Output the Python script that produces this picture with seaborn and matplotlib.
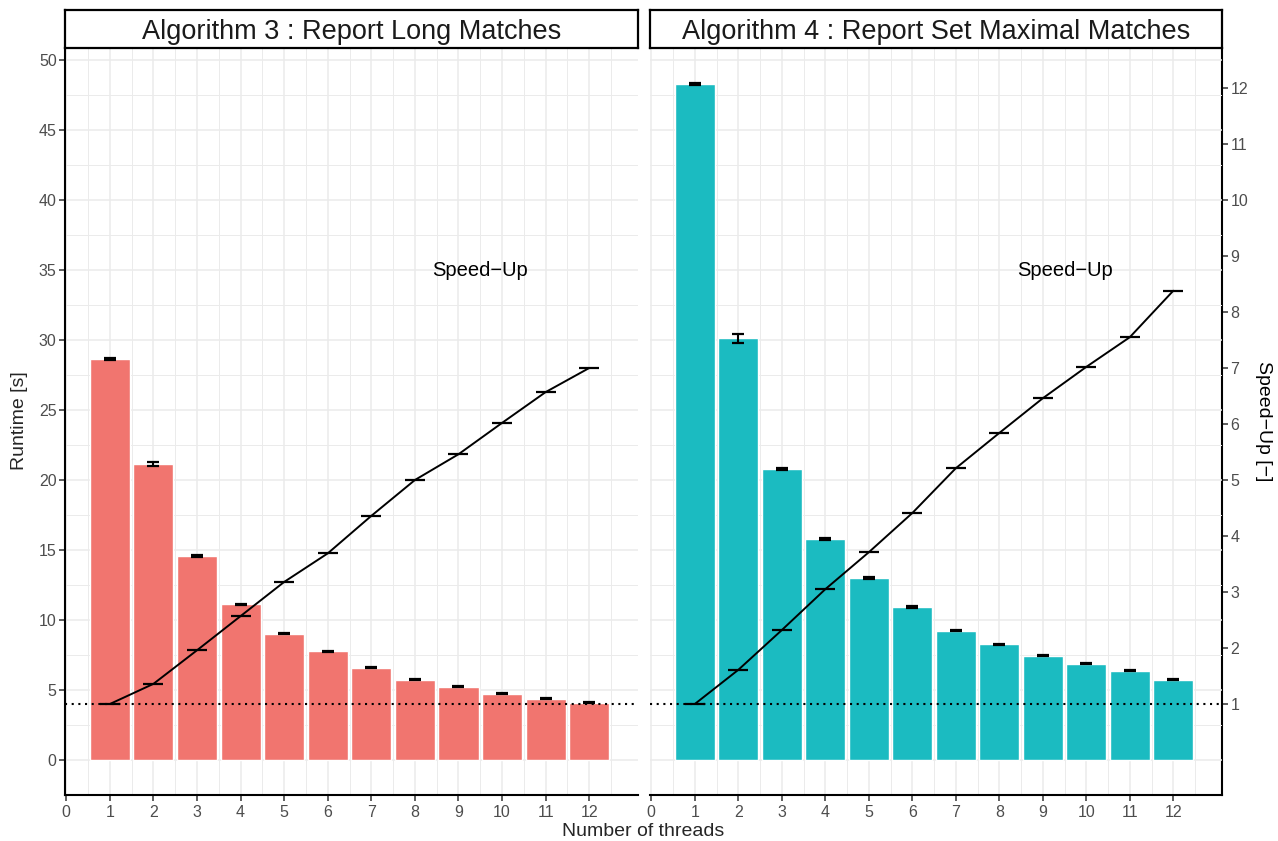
import numpy as np
import matplotlib
matplotlib.use("Agg")
import matplotlib.pyplot as plt
import seaborn as sns

sns.set_theme(style="white")
plt.rcParams['font.family'] = ['Liberation Sans', 'DejaVu Sans']

threads = np.arange(1, 13)
panel_titles = ["Algorithm 3 : Report Long Matches", "Algorithm 4 : Report Set Maximal Matches"]
runtime_alg3 = [28.65, 21.15, 14.58, 11.12, 9.02, 7.78, 6.6, 5.72, 5.22, 4.75, 4.38, 4.08]
runtime_alg3_err = [0.05, 0.15, 0.07, 0.05, 0.05, 0.04, 0.04, 0.04, 0.04, 0.06, 0.04, 0.04]
speedup_alg3 = [1.0, 1.36, 1.96, 2.57, 3.18, 3.69, 4.36, 5.0, 5.46, 6.02, 6.57, 7.0]
runtime_alg4 = [48.28, 30.12, 20.8, 15.8, 13.0, 10.93, 9.22, 8.28, 7.45, 6.87, 6.38, 5.73]
runtime_alg4_err = [0.05, 0.3, 0.07, 0.06, 0.06, 0.05, 0.04, 0.04, 0.04, 0.04, 0.04, 0.04]
speedup_alg4 = [1.0, 1.61, 2.32, 3.05, 3.71, 4.41, 5.21, 5.84, 6.46, 7.02, 7.55, 8.38]
colors = ["#F1756F", "#1BBBC1"]
x_ticks = list(range(0, 13))
y_ticks = list(range(0, 51, 5))
speedup_ticks = list(range(1, 13))
SCALE = 4.0  # speed-up -> runtime axis scale

W, H = 1278, 841
fig = plt.figure(figsize=(W / 100, H / 100), dpi=100)

panels = [(65, 638), (650, 1222)]
top, bottom = 48, 795
strip_top = 10

runtimes = [runtime_alg3, runtime_alg4]
errs = [runtime_alg3_err, runtime_alg4_err]
speeds = [speedup_alg3, speedup_alg4]

grey30 = "#4D4D4D"
grey20 = "#333333"
TICK_FS = 11.5

for i, (x0, x1) in enumerate(panels):
    ax = fig.add_axes([x0 / W, 1 - bottom / H, (x1 - x0) / W, (bottom - top) / H])
    ax.set_xlim(-0.03, 13.12)
    ax.set_ylim(-2.5, 50.86)
    ax.set_xticks(x_ticks)
    ax.set_xticks(np.arange(0.5, 13.1, 1.0), minor=True)
    ax.set_yticks(y_ticks)
    ax.set_yticks(np.arange(2.5, 50.1, 5.0), minor=True)
    ax.grid(True, which='major', color="#EBEBEB", lw=1.1, zorder=0)
    ax.grid(True, which='minor', color="#EBEBEB", lw=0.7, zorder=0)
    ax.set_axisbelow(True)

    sns.barplot(x=threads, y=np.array(runtimes[i]), native_scale=True, width=0.92,
                color=colors[i], saturation=1, errorbar=None, ax=ax, zorder=2)
    ax.errorbar(threads, runtimes[i], yerr=errs[i], fmt='none', ecolor='black',
                elinewidth=1.5, capsize=4, capthick=1.6, zorder=3)
    sp = np.array(speeds[i]) * SCALE
    sns.lineplot(x=threads, y=sp, color='black', lw=1.4, ax=ax, zorder=4)
    ax.hlines(sp, threads - 0.23, threads + 0.23, color='black', lw=1.6, zorder=4)
    ax.axhline(1 * SCALE, color='black', ls=(0, (1, 2.2)), lw=1.5, zorder=5)
    ax.text(9.5, 35, "Speed\u2212Up", ha='center', va='center', fontsize=14.5, color='black')

    ax.set_xlim(-0.03, 13.12)
    ax.set_ylim(-2.5, 50.86)
    ax.set_xlabel("")
    ax.set_ylabel("")
    for s in ax.spines.values():
        s.set_visible(False)
    ax.spines['bottom'].set_visible(True)
    ax.spines['bottom'].set_color('black')
    ax.spines['bottom'].set_linewidth(1.5)
    ax.tick_params(axis='x', which='major', direction='out', length=4, width=1.1,
                   color=grey20, labelcolor=grey30, labelsize=TICK_FS, pad=3, bottom=True)
    ax.tick_params(which='minor', length=0)
    ax.set_xticklabels([str(t) for t in x_ticks])
    if i == 0:
        ax.spines['left'].set_visible(True)
        ax.spines['left'].set_color('black')
        ax.spines['left'].set_linewidth(1.5)
        ax.tick_params(axis='y', which='major', direction='out', length=4, width=1.1,
                       color=grey20, labelcolor=grey30, labelsize=TICK_FS, pad=2, left=True)
        ax.set_yticklabels([str(t) for t in y_ticks])
    else:
        ax.tick_params(axis='y', which='both', left=False, labelleft=False)
        sec = ax.secondary_yaxis('right', functions=(lambda y: y / SCALE, lambda s: s * SCALE))
        sec.set_yticks(speedup_ticks)
        sec.set_yticklabels([str(t) for t in speedup_ticks])
        sec.spines['right'].set_color('black')
        sec.spines['right'].set_linewidth(1.5)
        sec.tick_params(axis='y', direction='out', length=4, width=1.1, color=grey20,
                        labelcolor=grey30, labelsize=TICK_FS, pad=2)
        sec.set_ylabel("Speed\u2212Up [\u2212]", rotation=270, fontsize=14, labelpad=17, color='black')

    sax = fig.add_axes([x0 / W, 1 - top / H, (x1 - x0) / W, (top - strip_top) / H])
    sax.set_xticks([])
    sax.set_yticks([])
    sax.set_facecolor('white')
    for s in sax.spines.values():
        s.set_visible(True)
        s.set_color('black')
        s.set_linewidth(1.6)
    sax.text(0.5, 0.42, panel_titles[i], ha='center', va='center', fontsize=19.5,
             color='#1A1A1A', transform=sax.transAxes)

fig.text(20 / W, 1 - 421 / H, "Runtime [s]", rotation=90, ha='center', va='center', fontsize=14)
fig.text(643 / W, 1 - 831 / H, "Number of threads", ha='center', va='center', fontsize=14)

fig.savefig("out.png", dpi=100, facecolor='white')
